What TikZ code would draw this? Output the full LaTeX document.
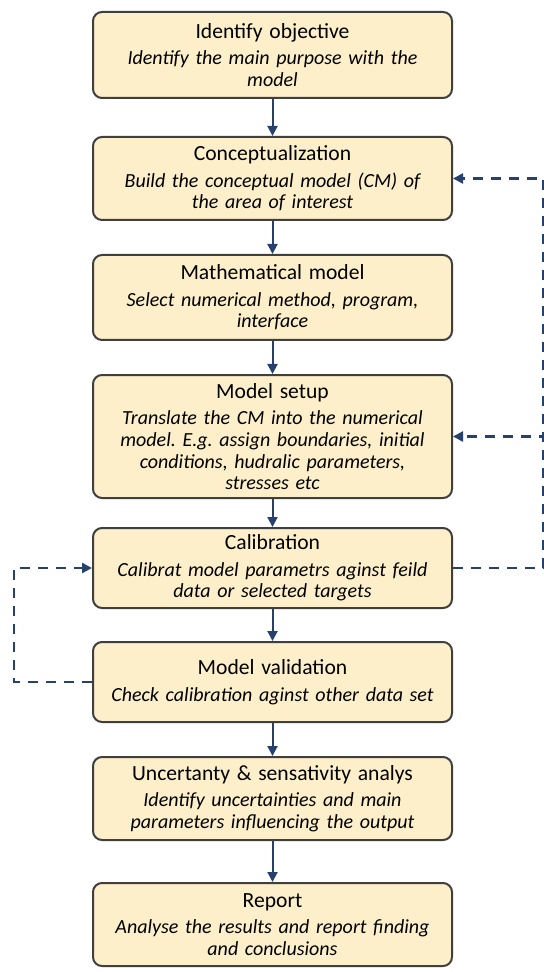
\documentclass[tikz,border=0pt]{standalone}
\usepackage{fontspec}
\setmainfont{Carlito}
\usepackage{xcolor}
\usetikzlibrary{arrows.meta,positioning}
\definecolor{boxfill}{HTML}{FDEFC9}
\definecolor{boxline}{HTML}{3F3F3F}
\definecolor{navy}{HTML}{27416E}
\frenchspacing
\newcommand{\stagetxt}[2]{{\fontsize{10.8}{10.8}\selectfont #1}\\[2.5pt]{\itshape #2}}

\begin{document}
\begin{tikzpicture}[x=0.5pt,y=-0.5pt,
    stage/.style={draw=boxline, line width=1pt, fill=boxfill, rounded corners=4.5pt,
        minimum width=179.5pt, text width=174pt, align=center, inner sep=0pt,
        font=\fontsize{10}{10.8}\selectfont},
    flow/.style={navy, line width=1pt, -{Triangle[length=5pt,width=5pt]}},
    fb/.style={navy, line width=1.2pt, dash pattern=on 5pt off 4pt, -{Triangle[length=5pt,width=5pt]}}]
\useasboundingbox (0,0) rectangle (544,972);
% stages
\node[stage, minimum height=43pt]   (b1) at (272.5,55)    {\stagetxt{Identify objective}{Identify the main purpose with the\\model}};
\node[stage, minimum height=41.5pt] (b2) at (272.5,178.5) {\stagetxt{Conceptualization}{Build the conceptual model (CM) of\\the area of interest}};
\node[stage, minimum height=42.5pt] (b3) at (272.5,297.5) {\stagetxt{Mathematical model}{Select numerical method, program,\\interface}};
\node[stage, minimum height=61.5pt] (b4) at (272.5,436.5) {\stagetxt{Model setup}{Translate the CM into the numerical\\model. E.g. assign boundaries, initial\\conditions, hudralic parameters,\\stresses etc}};
\node[stage, minimum height=40pt]   (b5) at (272.5,568)   {\stagetxt{Calibration}{Calibrat model parametrs aginst feild\\data or selected targets}};
\node[stage, minimum height=40pt]   (b6) at (272.5,682)   {\stagetxt{Model validation}{Check calibration aginst other data set}};
\node[stage, minimum height=41.5pt] (b7) at (272.5,798.5) {\stagetxt{Uncertanty \& sensativity analys}{Identify uncertainties and main\\parameters influencing the output}};
\node[stage, minimum height=41.5pt] (b8) at (272.5,924.5) {\stagetxt{Report}{Analyse the results and report finding\\and conclusions}};
% main flow
\foreach \a/\b in {b1/b2,b2/b3,b3/b4,b4/b5,b5/b6,b6/b7,b7/b8}
    \draw[flow] (\a) -- (\b);
% feedback loops
\coordinate (rr) at (543,0);
\coordinate (ll) at (14,0);
\draw[fb] (b5.east) -- (b5.east -| rr) |- (b2.east);
\draw[fb] (b5.east -| rr) |- (b4.east);
\draw[fb] (b6.west) -- (b6.west -| ll) |- (b5.west);
\end{tikzpicture}
\end{document}
